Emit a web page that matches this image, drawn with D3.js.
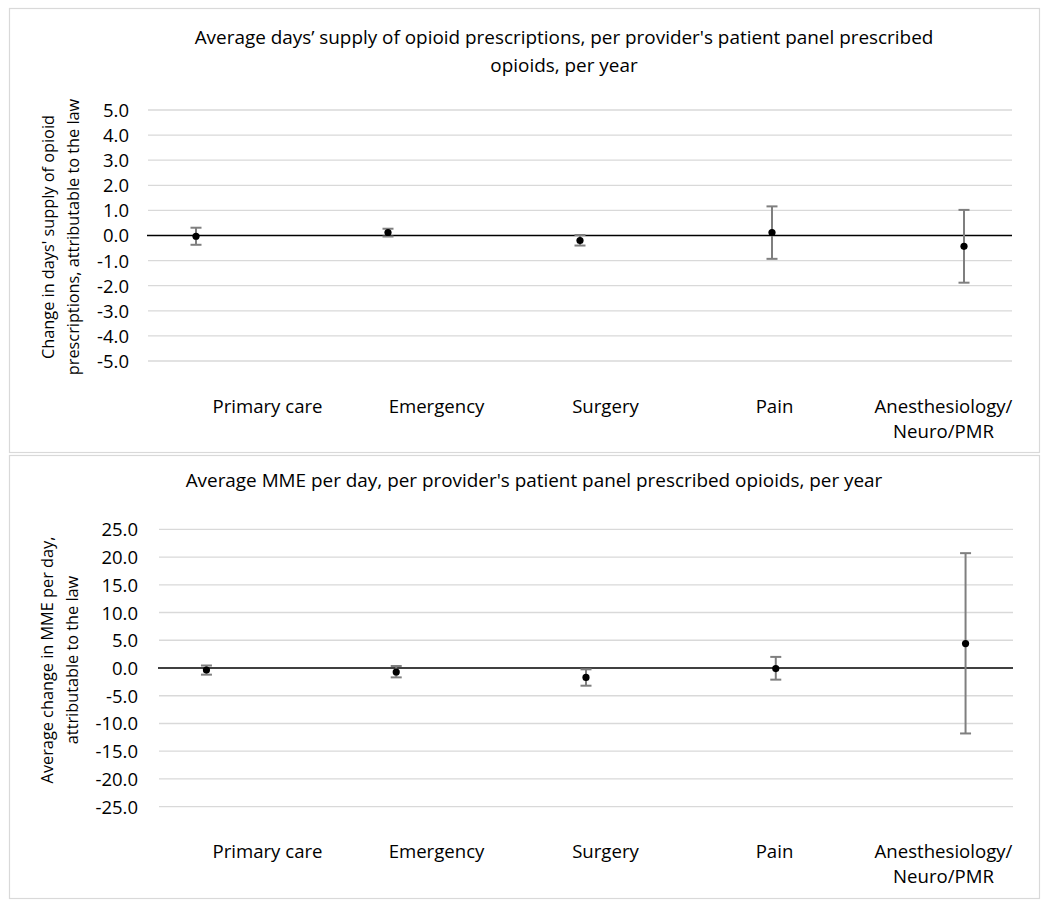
<!DOCTYPE html>
<html>
<head>
<meta charset="utf-8">
<script src="https://cdn.jsdelivr.net/npm/d3@7.9.0/dist/d3.min.js"></script>
<style>
  body { margin: 0; background: #fff; }
  text { font-family: "Open Sans", sans-serif; fill: #000; }
</style>
</head>
<body>
<svg id="chart" width="1050" height="907"></svg>
<script>
// categories (x positions 1..5 in the scatter) and their labels
const categories = ["Primary care", "Emergency", "Surgery", "Pain", "Anesthesiology/\nNeuro/PMR"];
const catX = [1, 2, 3, 4, 5];

// days' supply panel
const daysEst = [-0.03, 0.12, -0.2, 0.12, -0.43];
const daysLow = [-0.37, -0.04, -0.4, -0.93, -1.88];
const daysHigh = [0.31, 0.27, 0.02, 1.16, 1.02];
const daysTicks = [5, 4, 3, 2, 1, 0, -1, -2, -3, -4, -5];

// MME panel
const mmeEst = [-0.36, -0.72, -1.69, -0.1, 4.4];
const mmeLow = [-1.2, -1.69, -3.19, -2.1, -11.8];
const mmeHigh = [0.45, 0.36, -0.24, 2.0, 20.7];
const mmeTicks = [25, 20, 15, 10, 5, 0, -5, -10, -15, -20, -25];

const svg = d3.select("#chart");

// category label row sits in the same place in both panels
const band = d3.scaleBand().domain(categories).range([183, 1028]);

function drawPanel(p) {
  const g = svg.append("g");

  // panel frame
  g.append("rect")
    .attr("x", p.box[0] + 0.5).attr("y", p.box[1] + 0.5)
    .attr("width", p.box[2]).attr("height", p.box[3])
    .attr("fill", "#fff").attr("stroke", "#d9d9d9").attr("stroke-width", 1.2);

  const x = d3.scaleLinear().domain([0.75, 5.25]).range(p.xRange);
  const y = d3.scaleLinear().domain([d3.min(p.ticks), d3.max(p.ticks)]).range(p.yRange);

  // gridlines
  g.selectAll(".grid").data(p.ticks.filter(t => t !== 0)).join("line")
    .attr("x1", p.xRange[0]).attr("x2", p.xRange[1])
    .attr("y1", d => y(d)).attr("y2", d => y(d))
    .attr("stroke", "#d9d9d9").attr("stroke-width", 1.3);

  // y axis labels
  const yAxis = d3.axisLeft(y).tickValues(p.ticks).tickSize(0).tickPadding(0);
  g.append("g")
    .attr("transform", `translate(${p.labelRight},0)`)
    .call(yAxis)
    .attr("font-family", null).attr("font-size", null)
    .call(a => a.select(".domain").remove())
    .call(a => a.selectAll("text")
      .attr("font-size", 18.5)
      .attr("fill", "#000").attr("dy", "0.35em")
      .text(d => d3.format(".1f")(d).replace("\u2212", "-")));

  // zero line
  g.append("line")
    .attr("x1", p.xRange[0] - 1).attr("x2", p.xRange[1])
    .attr("y1", y(0)).attr("y2", y(0))
    .attr("stroke", "#000").attr("stroke-width", 1.6);

  // error bars
  const rows = catX.map((c, i) => ({ c, est: p.est[i], lo: p.low[i], hi: p.high[i] }));
  const eb = g.selectAll(".eb").data(rows).join("g").attr("stroke", "#7f7f7f").attr("stroke-width", 2);
  eb.append("line").attr("x1", d => x(d.c)).attr("x2", d => x(d.c)).attr("y1", d => y(d.lo)).attr("y2", d => y(d.hi));
  eb.append("line").attr("x1", d => x(d.c) - 5.5).attr("x2", d => x(d.c) + 5.5).attr("y1", d => y(d.lo)).attr("y2", d => y(d.lo));
  eb.append("line").attr("x1", d => x(d.c) - 5.5).attr("x2", d => x(d.c) + 5.5).attr("y1", d => y(d.hi)).attr("y2", d => y(d.hi));

  // points
  g.selectAll(".pt").data(rows).join("circle")
    .attr("cx", d => x(d.c)).attr("cy", d => y(d.est)).attr("r", 3.6).attr("fill", "#000");

  // category labels
  const cl = g.selectAll(".cat").data(categories).join("text")
    .attr("text-anchor", "middle").attr("font-size", 18.6)
    .attr("x", d => band(d) + band.bandwidth() / 2)
    .attr("y", p.catY);
  cl.selectAll("tspan").data(d => d.split("\n")).join("tspan")
    .attr("x", function () { return d3.select(this.parentNode).attr("x"); })
    .attr("dy", (d, i) => i === 0 ? 0 : 24.5)
    .text(d => d);

  // title
  g.selectAll(".title").data(p.title).join("text")
    .attr("text-anchor", "middle").attr("font-size", 18.9)
    .attr("x", p.titleX).attr("y", (d, i) => p.titleY + i * 28)
    .text(d => d);

  // y axis title
  const yt = g.append("text")
    .attr("text-anchor", "middle").attr("font-size", 16.3)
    .attr("transform", `translate(${p.yTitle[0]},${p.yTitle[1]}) rotate(-90)`);
  yt.selectAll("tspan").data(p.yLabel).join("tspan")
    .attr("x", 0).attr("dy", (d, i) => i === 0 ? 0 : 25)
    .text(d => d);
}

drawPanel({
  box: [9, 8, 1030, 444],
  xRange: [148, 1012],
  yRange: [361, 110],
  ticks: daysTicks,
  est: daysEst, low: daysLow, high: daysHigh,
  labelRight: 129,
  catY: 413,
  title: ["Average days\u2019 supply of opioid prescriptions, per provider's patient panel prescribed", "opioids, per year"],
  titleX: 564, titleY: 44,
  yLabel: ["Change in days' supply of opioid", "prescriptions, attributable to the law"],
  yTitle: [54, 237]
});

drawPanel({
  box: [9, 455, 1030, 443],
  xRange: [159, 1013],
  yRange: [806.7, 529.3],
  ticks: mmeTicks,
  est: mmeEst, low: mmeLow, high: mmeHigh,
  labelRight: 138,
  catY: 858,
  title: ["Average MME per day, per provider's patient panel prescribed opioids, per year"],
  titleX: 534, titleY: 487,
  yLabel: ["Average change in MME per day,", "attributable to the law"],
  yTitle: [53, 660]
});
</script>
</body>
</html>
